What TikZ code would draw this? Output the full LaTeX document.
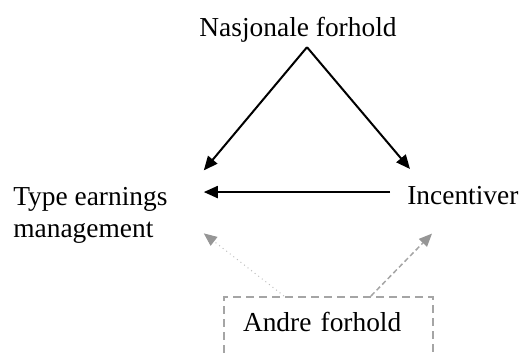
\documentclass[tikz,border=0pt]{standalone}
\usepackage{fontspec}
\setmainfont{Liberation Serif}
\usetikzlibrary{arrows.meta}
\definecolor{boxgray}{RGB}{165,165,165}
\definecolor{tipgray}{RGB}{150,150,150}
\definecolor{dotgray}{RGB}{190,190,190}

\begin{document}
\begin{tikzpicture}[x=0.02cm,y=0.02cm,
  lbl/.style={font=\fontsize{15.6}{16.5}\selectfont,inner sep=0},
  blackarrow/.style={line width=0.04cm,-{Triangle[length=0.28cm,width=0.24cm]}},
  dotarrow/.style={dotgray,line width=0.02cm,dotted,-{Triangle[length=0.26cm,width=0.22cm,color=tipgray]}},
  dasharrow/.style={boxgray,line width=0.03cm,dash pattern=on 0.1cm off 0.06cm,-{Triangle[length=0.26cm,width=0.22cm,color=tipgray]}}]
\useasboundingbox (0,0) rectangle (523,354);
\clip (0,0) rectangle (523,354);
\node[lbl,inner ysep=0.08cm,anchor=base] (nas) at (298,317) {Nasjonale forhold};
\node[lbl,inner xsep=0.72cm,align=left,anchor=north west] (type) at (-23,166.5) {Type earnings\\[0.06cm]management};
\node[lbl,inner xsep=0.34cm,inner ysep=0.35cm,anchor=base west] (inc) at (390,149) {Incentiver};
\node[lbl,draw=boxgray,line width=0.04cm,dash pattern=on 0.16cm off 0.1cm,inner xsep=0.38cm,inner ysep=0.31cm,
  text width=3.42cm,align=left,text depth=0.33cm,anchor=north west] (andre) at (223,58) {Andre forhold};
\draw[blackarrow] ([xshift=0.18cm]nas.south) -- ([yshift=0.91cm]type.east);
\draw[blackarrow] ([xshift=0.18cm]nas.south) -- ([xshift=0.4cm]inc.north west);
\draw[blackarrow] ([yshift=0.08cm]inc.west) -- ([yshift=0.08cm]inc.west -| type.east);
\draw[dotarrow] ([xshift=-0.89cm]andre.north) -- ([yshift=-0.35cm]type.east);
\draw[dasharrow] ([xshift=0.85cm]andre.north) -- ([shift={(0.84cm,-0.21cm)}]inc.south west);
\end{tikzpicture}
\end{document}
